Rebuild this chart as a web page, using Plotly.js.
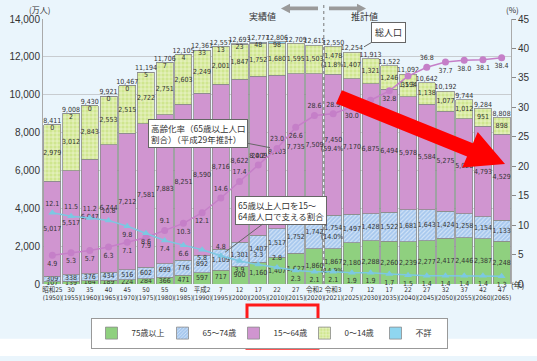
<!DOCTYPE html>
<html><head><meta charset="utf-8">
<script src="https://cdn.plot.ly/plotly-3.0.1.min.js"></script>
<style>html,body{margin:0;padding:0;background:#fff;}#chart{width:537px;height:361px;}</style>
</head><body><div id="chart"></div>
<script>
const years = ['1950','1955','1960','1965','1970','1975','1980','1985','1990','1995','2000','2005','2010','2015','2020','2021','2025','2030','2035','2040','2045','2050','2055','2060','2065'];
const eraLabels = ['昭和25','30','35','40','45','50','55','60','平成2','7','12','17','22','27','令和2','令和3','7','12','17','22','27','32','37','42','47'];
const age75plus = [107,139,164,189,224,284,366,471,597,717,900,1160,1407,1627,1860,1867,2180,2288,2260,2239,2277,2417,2446,2387,2248];
const age65to74 = [309,338,376,434,516,602,699,776,892,1109,1301,1407,1517,1752,1742,1754,1497,1428,1522,1681,1643,1424,1258,1154,1133];
const age15to64 = [5017,5517,6047,6744,7212,7581,7883,8251,8590,8716,8622,8409,8103,7735,7509,7450,7170,6875,6494,5978,5584,5275,5028,4793,4529];
const age0to14 = [2979,3012,2843,2553,2515,2722,2751,2603,2249,2001,1847,1752,1680,1595,1503,1478,1407,1321,1246,1194,1138,1077,1012,951,898];
const unknownAge = [0,2,0,0,0,5,7,4,33,13,23,48,98,null,null,null,null,null,null,null,null,null,null,null,null];
const totalPop = [8411,9008,9430,9921,10467,11194,11706,12105,12361,12557,12693,12777,12806,12709,12615,12550,12254,11913,11522,11092,10642,10192,9744,9284,8808];
const agingRate = [4.9,5.3,5.7,6.3,7.1,7.9,9.1,10.3,12.1,14.6,17.4,20.2,23.0,26.6,28.6,28.9,30.0,31.2,32.8,35.3,36.8,37.7,38.0,38.1,38.4];
const supportRatio = [12.1,11.5,11.2,10.8,9.8,8.6,7.4,6.6,5.8,4.8,3.9,3.3,2.8,2.3,2.1,2.1,1.9,1.9,1.7,1.5,1.4,1.4,1.4,1.4,1.3];

const NUMF = '"Liberation Sans Narrow","DejaVu Sans Condensed","Arial Narrow","Noto Sans CJK JP",sans-serif';
const JPF = '"Noto Sans CJK JP","Noto Sans",sans-serif';
const fmt = v => (v===null||v===undefined) ? '' : v.toLocaleString('en-US');
const HL = 15; // 2021 column shows shares

function barTrace(name, vals, color, pattern, showText){
  return {
    type:'bar', x:years, y:vals, name:name,
    marker:{color:color, line:{color:'#8c8c8c', width:0.8}, pattern:pattern},
    text: showText ? vals.map((v,i)=> fmt(v) + (i===HL ? '<br>(' + (v/totalPop[i]*100).toFixed(1) + '%)' : '')) : null,
    textposition: showText ? 'inside' : 'none',
    insidetextanchor:'middle', textangle:0, constraintext:'none',
    textfont:{family:NUMF, size:7, color:'#333'},
    hoverinfo:'skip', cliponaxis:false
  };
}

const traces = [
  barTrace('75歳以上', age75plus, '#8fd07f', {shape:''}, true),
  barTrace('65～74歳', age65to74, '#a7c8ee', {shape:'/', fgcolor:'#d6e6f8', bgcolor:'#a7c8ee', size:3, solidity:0.35}, true),
  barTrace('15～64歳', age15to64, '#d095d0', {shape:''}, true),
  barTrace('0～14歳', age0to14, '#d3e99a', {shape:'+', fgcolor:'#f1f8d8', bgcolor:'#cfe68f', size:4, solidity:0.3}, true),
  barTrace('不詳', unknownAge, '#8fd6f0', {shape:''}, false),
  {type:'scatter', mode:'text', x:years, y:totalPop, text:totalPop.map(fmt), textposition:'top center',
   textfont:{family:NUMF, size:7, color:'#333'}, showlegend:false, hoverinfo:'skip', cliponaxis:false},
  {type:'scatter', mode:'text', x:years, y:totalPop, text:unknownAge.map(fmt), textposition:'bottom center',
   textfont:{family:NUMF, size:7, color:'#333'}, showlegend:false, hoverinfo:'skip', cliponaxis:false},
  {type:'scatter', mode:'lines+markers+text', x:years, y:agingRate, yaxis:'y2', name:'高齢化率',
   line:{color:'#c57fc8', width:1.5}, marker:{symbol:'circle', size:7, color:'#c57fc8'},
   text:agingRate.map(v=>v.toFixed(1)),
   textposition:['bottom center','bottom center','bottom center','bottom center','bottom center','bottom center','top center','bottom center','bottom center','top center','top center','top center','top center','bottom center','top center','top center','bottom center','bottom center','bottom center','bottom center','top center','bottom center','bottom center','bottom center','bottom center'],
   textfont:{family:NUMF, size:7, color:'#333'}, showlegend:false, hoverinfo:'skip', cliponaxis:false},
  {type:'scatter', mode:'lines+markers+text', x:years, y:supportRatio, yaxis:'y2', name:'支える割合',
   line:{color:'#7cc8e2', width:1.5}, marker:{symbol:'triangle-up', size:7, color:'#7cc8e2'},
   text:supportRatio.map(v=>v.toFixed(1)),
   textposition:supportRatio.map((v,i)=> (i<=3 || i===9 || i===11 || i===12) ? 'top center' : 'bottom center'),
   textfont:{family:NUMF, size:7, color:'#333'}, showlegend:false, hoverinfo:'skip', cliponaxis:false}
];

const L=43, R=511, T=19, B=295;
const px = x => (x-L)/(R-L);
const py = y => (B-y)/(B-T);
function pathPx(pts){ return 'M ' + pts.map(p=>px(p[0]).toFixed(4)+' '+py(p[1]).toFixed(4)).join(' L ') + ' Z'; }

const tail=[339,100], tip=[505,170];
const dx=tip[0]-tail[0], dy=tip[1]-tail[1], len=Math.hypot(dx,dy);
const u=[dx/len,dy/len], n=[-u[1],u[0]];
const hw=7.5, hh=20, hl=38;
const base=[tip[0]-hl*u[0], tip[1]-hl*u[1]];
const P=(c,k)=>[c[0]+k*n[0], c[1]+k*n[1]];
const redArrow = pathPx([P(tail,-hw), P(base,-hw), P(base,-hh), tip, P(base,hh), P(base,hw), P(tail,hw)]);

const shapes = [
  {type:'rect', xref:'paper', yref:'paper', x0:px(-5), x1:px(545), y0:py(352), y1:py(370), fillcolor:'#ffffff', line:{width:0}, layer:'below'},
  {type:'line', xref:'x', yref:'paper', x0:14.5, x1:14.5, y0:0, y1:py(2), line:{color:'#777', width:1, dash:'dot'}},
  {type:'path', xref:'paper', yref:'paper', path:pathPx([[318,6],[290,6],[290,3],[281,8],[290,13],[290,10],[318,10]]), fillcolor:'#9a9a9a', line:{width:0}},
  {type:'path', xref:'paper', yref:'paper', path:pathPx([[329,6],[357,6],[357,3],[366,8],[357,13],[357,10],[329,10]]), fillcolor:'#9a9a9a', line:{width:0}},
  {type:'path', xref:'paper', yref:'paper', path:redArrow, fillcolor:'#ff0000', line:{width:0}},
  {type:'rect', xref:'paper', yref:'paper', x0:px(247), x1:px(318), y0:py(362), y1:py(317), line:{color:'#ff1a1a', width:3}}
];

const ann = (t,x,y,opts={}) => Object.assign({text:t, xref:'paper', yref:'paper', x:px(x), y:py(y), showarrow:false, font:{family:JPF, size:9, color:'#333'}}, opts);

const annotations = [
  ann('(万人)', 27, 1, {yanchor:'top', font:{family:JPF, size:8, color:'#333'}}),
  ann('(%)', 521, 1, {yanchor:'top', font:{family:JPF, size:8, color:'#333'}}),
  ann('(年)', 526, 303, {font:{family:JPF, size:8, color:'#333'}}),
  ann('実績値', 262, 8, {font:{family:JPF, size:9, color:'#333'}}),
  ann('推計値', 380, 8, {font:{family:JPF, size:9, color:'#333'}}),
  ann('総人口', 364, 48, {showarrow:true, arrowhead:0, arrowwidth:1, arrowcolor:'#666', ax:24, ay:-14,
       bgcolor:'#ffffff', bordercolor:'#666', borderwidth:1, borderpad:3, font:{family:JPF, size:9, color:'#333'}}),
  ann('高齢化率（65歳以上人口<br>割合）（平成29年推計）', 270, 153, {showarrow:true, arrowhead:0, arrowwidth:1, arrowcolor:'#666', ax:-72, ay:-14,
       bgcolor:'#ffffff', bordercolor:'#666', borderwidth:1, borderpad:2, align:'left', font:{family:JPF, size:8.5, color:'#333'}}),
  ann('65歳以上人口を15～<br>64歳人口で支える割合', 225, 262, {showarrow:true, arrowhead:0, arrowwidth:1, arrowcolor:'#666', ax:56, ay:-42,
       bgcolor:'#ffffff', bordercolor:'#666', borderwidth:1, borderpad:2, align:'left', font:{family:JPF, size:8.5, color:'#333'}})
];

const layout = {
  width:537, height:361,
  margin:{l:L, r:537-R, t:T, b:361-B},
  paper_bgcolor:'#eaf5fc', plot_bgcolor:'#eaf5fc',
  barmode:'stack', bargap:0.09,
  font:{family:JPF, color:'#333'},
  xaxis:{type:'category', tickvals:years, ticktext:eraLabels.map((e,i)=>e+'<br>('+years[i]+')'), tickangle:0,
         tickfont:{family:NUMF, size:6.5, color:'#333'}, ticks:'', showgrid:false, zeroline:false,
         showline:false, range:[-0.5,24.5], fixedrange:true, automargin:false},
  yaxis:{range:[0,14000], dtick:2000, tickformat:',', tickfont:{family:'"Liberation Sans",sans-serif', size:10, color:'#333'},
         showgrid:true, gridcolor:'#c8ccd0', gridwidth:1, zeroline:false, showline:true, linecolor:'#aaa', ticks:'', fixedrange:true, automargin:false},
  yaxis2:{overlaying:'y', side:'right', range:[0,45], dtick:5, tickfont:{family:'"Liberation Sans",sans-serif', size:10, color:'#333'},
          showgrid:false, zeroline:false, showline:true, linecolor:'#aaa', ticks:'outside', ticklen:4, tickcolor:'#888', fixedrange:true, automargin:false},
  showlegend:true,
  legend:{orientation:'h', x:px(269), xanchor:'center', y:py(330), yanchor:'top', bgcolor:'#ffffff', bordercolor:'#999', borderwidth:1,
          font:{family:JPF, size:8, color:'#333'}, traceorder:'normal', itemwidth:30, entrywidth:26, entrywidthmode:'pixels'},
  shapes:shapes, annotations:annotations
};

Plotly.newPlot('chart', traces, layout, {staticPlot:true, displayModeBar:false});
</script>
</body></html>
